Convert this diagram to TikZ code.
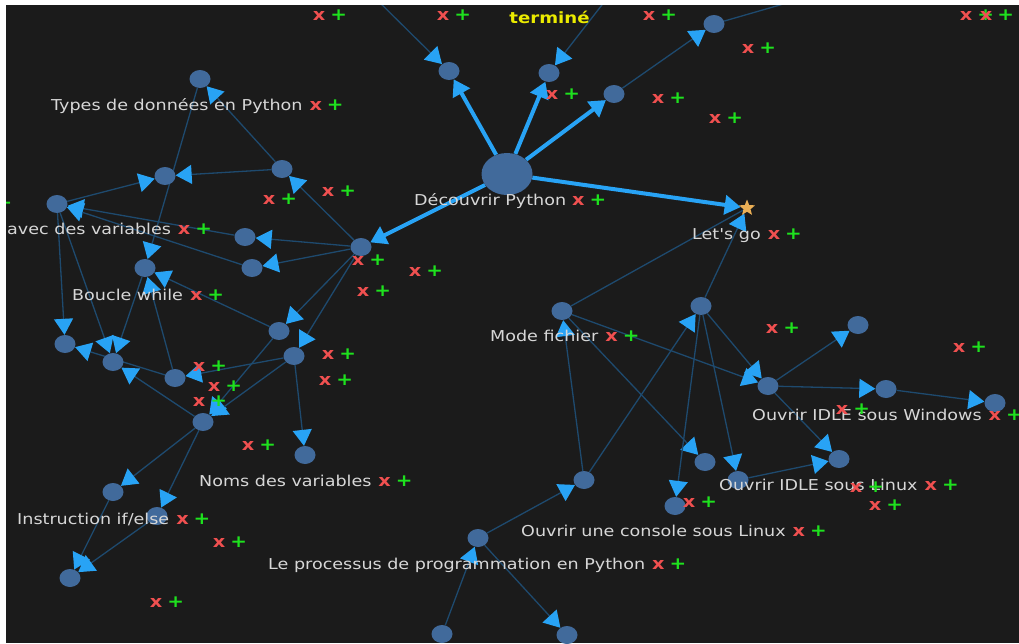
\documentclass[tikz,border=0pt]{standalone}
\usepackage{fontspec}
\newfontfamily\mapfont[FakeStretch=1.17]{DejaVu Sans}
\usepackage{tikz}
\usetikzlibrary{arrows.meta,shapes.geometric,backgrounds}
\usepackage{xcolor}
\definecolor{mapdark}{RGB}{27,27,27}
\definecolor{mapnode}{RGB}{65,106,155}
\definecolor{mapedge}{RGB}{30,74,110}
\definecolor{maptip}{RGB}{40,163,245}
\definecolor{maptext}{RGB}{215,215,215}
\definecolor{mapred}{RGB}{240,80,80}
\definecolor{mapgreen}{RGB}{30,225,30}
\definecolor{mapyellow}{RGB}{235,235,0}
\definecolor{mapstar}{RGB}{235,175,85}
\newcommand{\crossmk}{\textcolor{mapred}{\fontsize{16.5}{18}\selectfont\bfseries x}}
\newcommand{\plusmk}{\textcolor{mapgreen}{\fontsize{17}{18}\selectfont\bfseries +}}
\pgfdeclarelayer{bottom}
\pgfsetlayers{bottom,background,main}

\begin{document}
\begin{tikzpicture}[x=1pt,y=-1pt,
  dot/.style={ellipse,fill=mapnode,inner sep=0pt,minimum width=21pt,minimum height=18pt},
  bigdot/.style={dot,minimum width=51pt,minimum height=42pt},
  link/.style={draw=mapedge,line width=1.3pt,-{Triangle[length=16pt,width=19pt,color=maptip]}},
  plainlink/.style={draw=mapedge,line width=1.3pt},
  mainlink/.style={draw=maptip,line width=4pt,-{Triangle[length=16pt,width=19pt]}},
  lbl/.style={anchor=base west,inner sep=0pt,text=maptext,font=\mapfont\fontsize{15}{18}\selectfont},
  mk/.style={anchor=base,inner sep=0pt,font=\mapfont\fontsize{15}{18}\selectfont}]
  \useasboundingbox (0,0) rectangle (1019,643);
  \begin{pgfonlayer}{bottom}
    \fill[mapdark] (6,5) rectangle (1019,643);
  \end{pgfonlayer}
  % nodes
  \node[bigdot] (D) at (507,174) {};
  \node[dot] (Na) at (449,71) {}; \node[dot] (Nb) at (549,73) {}; \node[dot] (Nc) at (614,94) {}; \node[dot] (Ne) at (714,24) {};
  \node[star,star points=5,star point ratio=2.3,fill=mapstar,inner sep=0pt,minimum size=17pt] (S) at (747,208) {};
  \node[dot] (Nf) at (361,247) {};
  \node[dot] (T1) at (200,79) {}; \node[dot] (T2) at (282,169) {}; \node[dot] (T3) at (165,176) {};
  \node[dot] (Ng) at (57,204) {}; \node[dot] (V1) at (245,237) {}; \node[dot] (V2) at (252,268) {};
  \node[dot] (W) at (145,268) {}; \node[dot] (R1) at (279,331) {}; \node[dot] (R2) at (294,356) {};
  \node[dot] (Nv) at (305,455) {};
  \node[dot] (B1) at (65,344) {}; \node[dot] (B2) at (113,362) {}; \node[dot] (B3) at (175,378) {};
  \node[dot] (IF) at (203,422) {};
  \node[dot] (I1) at (113,492) {}; \node[dot] (I2) at (157,516) {}; \node[dot] (I3) at (70,578) {};
  \node[dot] (M) at (562,311) {}; \node[dot] (X) at (701,306) {}; \node[dot] (IW) at (768,386) {};
  \node[dot] (TR) at (858,325) {}; \node[dot] (W2) at (886,389) {}; \node[dot] (W3) at (995,403) {};
  \node[dot] (L0) at (675,506) {}; \node[dot] (L1) at (705,462) {}; \node[dot] (L2) at (738,480) {}; \node[dot] (L3) at (839,459) {};
  \node[dot] (C) at (584,480) {}; \node[dot] (P) at (478,538) {}; \node[dot] (P1) at (442,634) {}; \node[dot] (P2) at (567,635) {};
  \coordinate (o1) at (369,-8); \coordinate (o2) at (612,-8); \coordinate (o3) at (825,-8);
  % connectors
  \begin{scope}[on background layer]
    \draw[link] (o1) -- (Na); \draw[link] (o2) -- (Nb); \draw[link] (Nc) -- (Ne); \draw[plainlink] (Ne) -- (o3);
    \draw[link] (Nf) -- (T2); \draw[link] (T2) -- (T1); \draw[link] (T2) -- (T3); \draw[link] (Ng) -- (T3);
    \draw[link] (T1) -- (W); \draw[link] (V1) -- (Ng); \draw[link] (V2) -- (Ng);
    \draw[link] (Nf) -- (V1); \draw[link] (Nf) -- (V2); \draw[link] (Nf) -- (R1); \draw[link] (Nf) -- (R2);
    \draw[link] (R1) -- (W); \draw[link] (B3) -- (W); \draw[link] (W) -- (B2);
    \draw[link] (Ng) -- (B1); \draw[link] (Ng) -- (B2); \draw[link] (B3) -- (B1);
    \draw[link] (R2) -- (B3); \draw[link] (R2) -- (Nv); \draw[link] (R1) -- (IF); \draw[link] (R2) -- (IF);
    \draw[link] (IF) -- (B2); \draw[link] (IF) -- (I1); \draw[link] (IF) -- (I2);
    \draw[link] (I1) -- (I3); \draw[link] (I2) -- (I3);
    \draw[plainlink] (M) -- (S); \draw[link] (X) -- (S); \draw[link] (C) -- (X); \draw[link] (C) -- (M);
    \draw[link] (M) -- (IW); \draw[link] (M) -- (L1); \draw[link] (X) -- (IW);
    \draw[link] (X) -- (L0); \draw[link] (X) -- (L2);
    \draw[link] (IW) -- (TR); \draw[link] (IW) -- (W2); \draw[link] (W2) -- (W3);
    \draw[link] (IW) -- (L3); \draw[link] (L2) -- (L3);
    \draw[link] (P) -- (C); \draw[link] (P1) -- (P); \draw[link] (P) -- (P2);
    \draw[mainlink] (D) -- (Na); \draw[mainlink] (D) -- (Nb); \draw[mainlink] (D) -- (Nc);
    \draw[mainlink] (D) -- (S); \draw[mainlink] (D) -- (Nf);
  \end{scope}
  % labels
  \node[lbl] (lTypes) at (51,110) {Types de données en Python\hspace{7pt}\crossmk\hspace{5pt}\plusmk};
  \node[lbl] (lVar) at (7,234) {avec des variables\hspace{7pt}\crossmk\hspace{5pt}\plusmk};
  \node[lbl] (lWhile) at (72,300) {Boucle while\hspace{7pt}\crossmk\hspace{5pt}\plusmk};
  \node[lbl] (lNoms) at (199,486) {Noms des variables\hspace{7pt}\crossmk\hspace{5pt}\plusmk};
  \node[lbl] (lIf) at (17,524) {Instruction if/else\hspace{7pt}\crossmk\hspace{5pt}\plusmk};
  \node[lbl] (lDec) at (414,205) {Découvrir Python\hspace{6pt}\crossmk\hspace{5pt}\plusmk};
  \node[lbl] (lGo) at (692,239) {Let's go\hspace{7pt}\crossmk\hspace{5pt}\plusmk};
  \node[lbl] (lMode) at (490,341) {Mode fichier\hspace{7pt}\crossmk\hspace{5pt}\plusmk};
  \node[lbl] (lWin) at (752,420) {Ouvrir IDLE sous Windows\hspace{7pt}\crossmk\hspace{5pt}\plusmk};
  \node[lbl] (lLin) at (719,490) {Ouvrir IDLE sous Linux\hspace{7pt}\crossmk\hspace{5pt}\plusmk};
  \node[lbl] (lCons) at (521,536) {Ouvrir une console sous Linux\hspace{7pt}\crossmk\hspace{5pt}\plusmk};
  \node[lbl] (lProc) at (268,569) {Le processus de programmation en Python\hspace{7pt}\crossmk\hspace{5pt}\plusmk};
  \node[anchor=base,inner sep=0pt,text=mapyellow,font=\mapfont\bfseries\fontsize{15.5}{18}\selectfont] (done) at (549.5,23) {terminé};
  % loose x + pairs
  \node[mk] (p1) at (330,20.5) {\crossmk\hspace{5pt}\plusmk}; \node[mk] (p2) at (454,20.5) {\crossmk\hspace{5pt}\plusmk}; \node[mk] (p3) at (660,20.5) {\crossmk\hspace{5pt}\plusmk};
  \node[mk] (p4) at (977,20.5) {\crossmk\hspace{5pt}\plusmk}; \node[mk] (p5) at (997,20.5) {\crossmk\hspace{5pt}\plusmk}; \node[mk] (p6) at (759,53.5) {\crossmk\hspace{5pt}\plusmk};
  \node[mk] (p7) at (563,99.5) {\crossmk\hspace{5pt}\plusmk}; \node[mk] (p8) at (669,103.5) {\crossmk\hspace{5pt}\plusmk}; \node[mk] (p9) at (726,123.5) {\crossmk\hspace{5pt}\plusmk};
  \node[mk] (p10) at (280,204.5) {\crossmk\hspace{5pt}\plusmk}; \node[mk] (p11) at (339,196.5) {\crossmk\hspace{5pt}\plusmk}; \node[mk] (p12) at (369,265.5) {\crossmk\hspace{5pt}\plusmk};
  \node[mk] (p13) at (426,276.5) {\crossmk\hspace{5pt}\plusmk}; \node[mk] (p14) at (374,296.5) {\crossmk\hspace{5pt}\plusmk}; \node[mk] (p15) at (339,359.5) {\crossmk\hspace{5pt}\plusmk};
  \node[mk] (p16) at (336,385.5) {\crossmk\hspace{5pt}\plusmk}; \node[mk] (p17) at (210,371.5) {\crossmk\hspace{5pt}\plusmk}; \node[mk] (p18) at (225,391.5) {\crossmk\hspace{5pt}\plusmk};
  \node[mk] (p19) at (210,406.5) {\crossmk\hspace{5pt}\plusmk}; \node[mk] (p20) at (259,450.5) {\crossmk\hspace{5pt}\plusmk}; \node[mk] (p21) at (230,547.5) {\crossmk\hspace{5pt}\plusmk};
  \node[mk] (p22) at (167,607.5) {\crossmk\hspace{5pt}\plusmk}; \node[mk] (p23) at (783,333.5) {\crossmk\hspace{5pt}\plusmk}; \node[mk] (p24) at (970,352.5) {\crossmk\hspace{5pt}\plusmk};
  \node[mk] (p25) at (853,414.5) {\crossmk\hspace{5pt}\plusmk}; \node[mk] (p26) at (700,507.5) {\crossmk\hspace{5pt}\plusmk}; \node[mk] (p27) at (867,492.5) {\crossmk\hspace{5pt}\plusmk};
  \node[mk] (p28) at (886,510.5) {\crossmk\hspace{5pt}\plusmk}; \node[mk] (p29) at (4,208.5) {\plusmk};
  % white margins of the frame
  \fill[white] (0,0) rectangle (1019,5); \fill[white] (0,0) rectangle (6,643);
\end{tikzpicture}
\end{document}
